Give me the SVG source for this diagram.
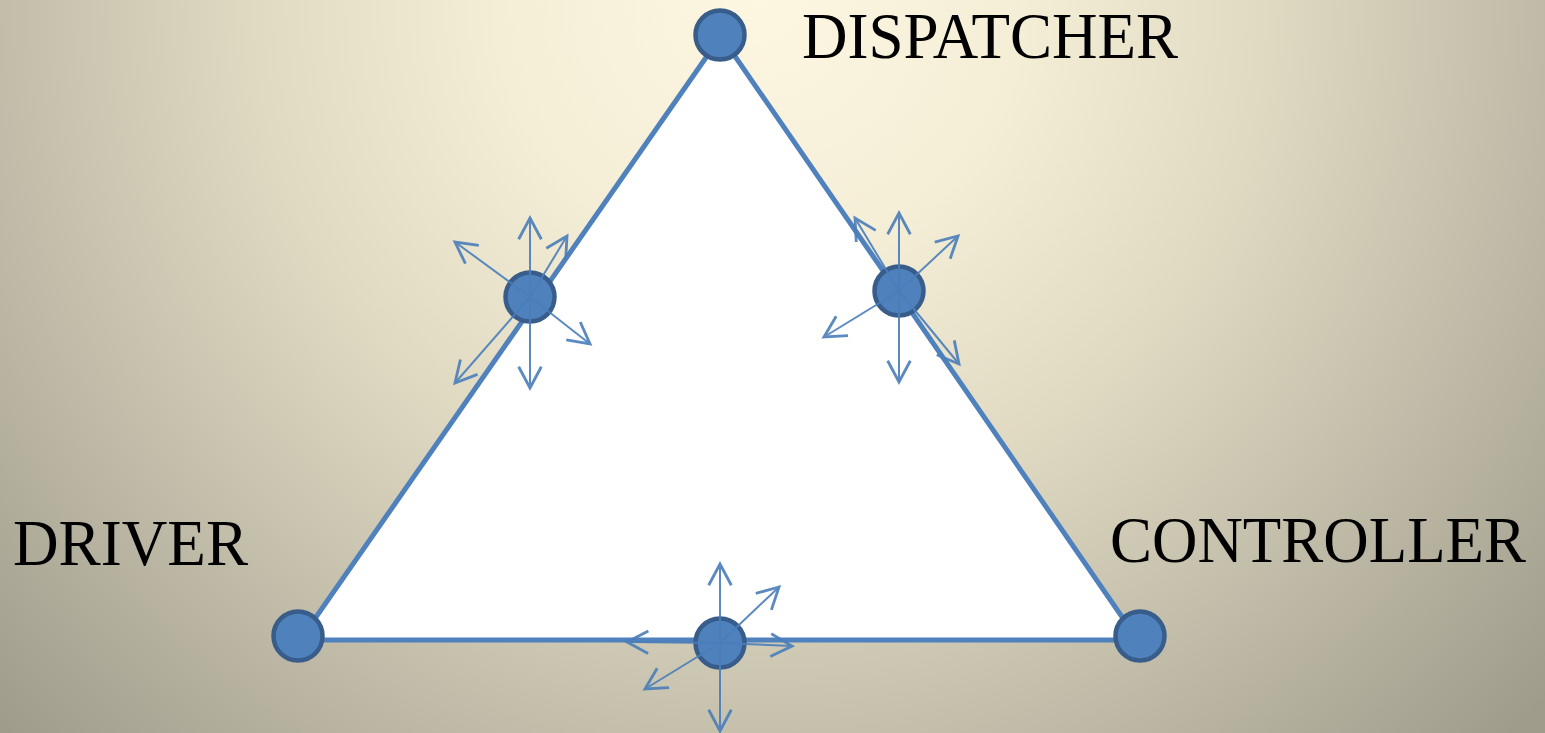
<svg xmlns="http://www.w3.org/2000/svg" width="1545" height="733" viewBox="0 0 1545 733">
  <defs>
    <radialGradient id="bg" gradientUnits="userSpaceOnUse" cx="760" cy="0" r="1050">
      <stop offset="0" stop-color="#fdf7e2"/>
      <stop offset="0.25" stop-color="#f4eed7"/>
      <stop offset="0.48" stop-color="#e0dac3"/>
      <stop offset="0.7" stop-color="#c5c0ac"/>
      <stop offset="1" stop-color="#9f9c8c"/>
    </radialGradient>
    <marker id="ah" markerUnits="userSpaceOnUse" markerWidth="34" markerHeight="34" viewBox="-18 -12 22 24" refX="0" refY="0" orient="auto">
      <path d="M-15,-8 L0,0 L-15,8" fill="none" stroke="#4a7ebb" stroke-width="2"/>
    </marker>
    <style>
      .lbl { font-family: "Liberation Serif", "Times New Roman", serif; font-size: 65px; fill: #000; }
      .node { fill: #4f81bd; stroke: #385d8a; stroke-width: 4.5; }
      .arr { stroke: #4a7ebb; stroke-width: 2; fill: none; marker-end: url(#ah); }
      .edge { fill: #ffffff; stroke: #4f81bd; stroke-width: 5; stroke-linejoin: miter; }
    </style>
  </defs>
  <rect x="0" y="0" width="1545" height="733" fill="url(#bg)"/>

  <g id="connectors">
    <polygon class="edge" points="721,36 300,640 1138,640"/>
  </g>

  <g id="dispatcher">
    <circle class="node" cx="720" cy="35" r="24.5"/>
    <text class="lbl" x="802" y="58" textLength="376" lengthAdjust="spacingAndGlyphs">DISPATCHER</text>
  </g>
  <g id="driver">
    <circle class="node" cx="298" cy="636" r="24.5"/>
    <text class="lbl" x="13" y="565" textLength="235" lengthAdjust="spacingAndGlyphs">DRIVER</text>
  </g>
  <g id="controller">
    <circle class="node" cx="1140" cy="636" r="24.5"/>
    <text class="lbl" x="1110" y="562" textLength="416" lengthAdjust="spacingAndGlyphs">CONTROLLER</text>
  </g>

  <g id="mid-left">
    <circle class="node" cx="530" cy="297" r="24.5"/>
    <g opacity="0.9">
      <line class="arr" x1="530" y1="297" x2="530" y2="218"/>
      <line class="arr" x1="530" y1="297" x2="530" y2="388"/>
      <line class="arr" x1="530" y1="297" x2="455" y2="242"/>
      <line class="arr" x1="530" y1="297" x2="567" y2="236"/>
      <line class="arr" x1="530" y1="297" x2="590" y2="344"/>
      <line class="arr" x1="530" y1="297" x2="455" y2="383"/>
    </g>
  </g>

  <g id="mid-right">
    <circle class="node" cx="899" cy="291" r="24.5"/>
    <g opacity="0.9">
      <line class="arr" x1="899" y1="291" x2="899" y2="213"/>
      <line class="arr" x1="899" y1="291" x2="899" y2="382"/>
      <line class="arr" x1="899" y1="291" x2="958" y2="236"/>
      <line class="arr" x1="899" y1="291" x2="824" y2="337"/>
      <line class="arr" x1="899" y1="291" x2="855" y2="218"/>
      <line class="arr" x1="899" y1="291" x2="959" y2="364"/>
    </g>
  </g>

  <g id="mid-bottom">
    <circle class="node" cx="720" cy="643" r="24.5"/>
    <g opacity="0.9">
      <line class="arr" x1="720" y1="643" x2="720" y2="564"/>
      <line class="arr" x1="720" y1="643" x2="720" y2="731"/>
      <line class="arr" x1="720" y1="643" x2="779" y2="587"/>
      <line class="arr" x1="720" y1="643" x2="645" y2="689"/>
      <line class="arr" x1="720" y1="643" x2="627" y2="642"/>
      <line class="arr" x1="720" y1="643" x2="792" y2="646"/>
    </g>
  </g>
</svg>
